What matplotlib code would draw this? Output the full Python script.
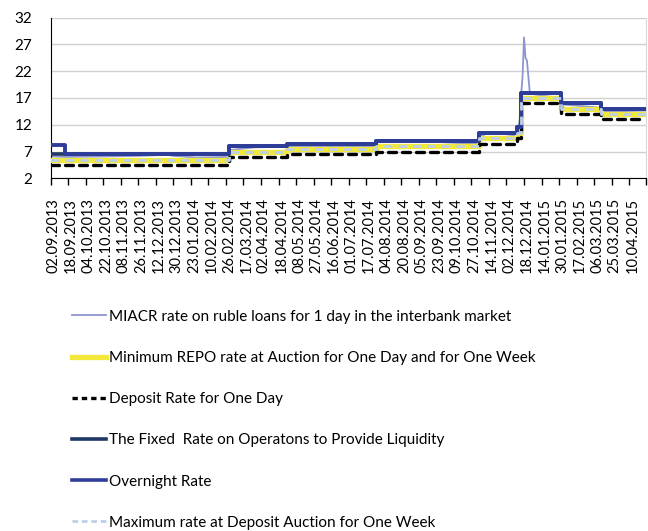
import matplotlib
matplotlib.use("Agg")
import matplotlib.pyplot as plt
import matplotlib.transforms as mtransforms
from matplotlib.lines import Line2D

plt.rcParams["font.family"] = ["Lato", "DejaVu Sans"]

# trading-day index of each labelled date (one label every 12 trading days)
TICK_LABELS = ["02.09.2013", "18.09.2013", "04.10.2013", "22.10.2013", "08.11.2013",
               "26.11.2013", "12.12.2013", "30.12.2013", "23.01.2014", "10.02.2014",
               "26.02.2014", "17.03.2014", "02.04.2014", "18.04.2014", "08.05.2014",
               "27.05.2014", "16.06.2014", "01.07.2014", "17.07.2014", "04.08.2014",
               "20.08.2014", "05.09.2014", "23.09.2014", "09.10.2014", "27.10.2014",
               "14.11.2014", "02.12.2014", "18.12.2014", "14.01.2015", "30.01.2015",
               "17.02.2015", "06.03.2015", "25.03.2015", "10.04.2015"]
LAST_DAY = 407

# step series: index where a rate takes effect, and the rate
overnight_x = [0, 10, 122, 162, 223, 293, 319, 322, 349, 377]
overnight_y = [8.25, 6.5, 8.0, 8.5, 9.0, 10.5, 11.5, 18.0, 16.0, 15.0]

fixed_x = [0, 122, 162, 223, 293, 319, 322, 349, 377]
fixed_y = [6.5, 8.0, 8.5, 9.0, 10.5, 11.5, 18.0, 16.0, 15.0]

repo_x = [0, 122, 162, 223, 293, 319, 322, 349, 377]
repo_y = [5.5, 7.0, 7.5, 8.0, 9.5, 10.5, 17.0, 15.0, 14.0]

deposit_x = [0, 122, 162, 223, 293, 319, 322, 349, 377]
deposit_y = [4.5, 6.0, 6.5, 7.0, 8.5, 9.5, 16.0, 14.0, 13.0]

maxdep_x = [0, 122, 162, 223, 293, 319, 322, 349, 377]
maxdep_y = [5.5, 7.0, 7.5, 8.0, 9.5, 10.5, 17.0, 15.0, 14.0]

# MIACR overnight interbank rate (read points)
miacr_x = [0, 10, 40, 60, 80, 84, 100, 121, 123, 140, 161, 163, 190, 222, 224, 250,
           270, 292, 294, 300, 310, 318, 320, 321, 322, 323, 324, 325, 326, 328, 348,
           350, 376, 378, 407]
miacr_y = [6.1, 6.0, 6.1, 6.2, 6.4, 6.2, 5.9, 6.0, 7.3, 7.8, 7.9, 8.0, 7.9, 8.0, 8.2, 8.0,
           8.3, 8.6, 9.8, 10.6, 10.3, 10.0, 11.5, 13.0, 17.5, 21.0, 28.3, 24.5, 24.0, 17.8,
           17.0, 15.8, 15.2, 14.5, 14.3]


def steps(xs, ys):
    return list(xs) + [LAST_DAY], list(ys) + [ys[-1]]


fig = plt.figure(figsize=(6.48, 5.31), dpi=100)
ax = fig.add_axes([0.078, 0.664, 0.919, 0.303])

ax.plot(miacr_x, miacr_y, color="#8E96D2", lw=1.3, zorder=2)
x, y = steps(repo_x, repo_y)
ax.plot(x, y, drawstyle="steps-post", color="#F2E83A", lw=3.8, zorder=3)
x, y = steps(deposit_x, deposit_y)
ax.plot(x, y, drawstyle="steps-post", color="black", lw=2.4, dashes=(2.4, 1.8),
        dash_capstyle="round", zorder=4)
x, y = steps(fixed_x, fixed_y)
ax.plot(x, y, drawstyle="steps-post", color="#1F3864", lw=2.6, zorder=5)
x, y = steps(overnight_x, overnight_y)
ax.plot(x, y, drawstyle="steps-post", color="#2E3D98", lw=2.8, zorder=6)
x, y = steps(maxdep_x, maxdep_y)
ax.plot(x, y, drawstyle="steps-post", color="#BCD0E8", lw=2.0, dashes=(3.0, 2.2),
        zorder=7)

ax.set_xlim(0, LAST_DAY + 0.5)
ax.set_ylim(2, 32)
ax.set_yticks(range(2, 33, 5))
ax.set_xticks(range(0, 12 * len(TICK_LABELS), 12))
ax.set_xticklabels(TICK_LABELS, rotation=90, fontsize=10.5)
ax.set_xticks([LAST_DAY + 0.5], minor=True)
ax.tick_params(axis="y", length=0, pad=13, labelsize=11)
ax.tick_params(axis="x", which="both", length=5, width=1, direction="out", pad=9,
               color="black")
offset = mtransforms.ScaledTranslation(3 / 100, 0, fig.dpi_scale_trans)
for lab in ax.get_xticklabels():
    lab.set_transform(lab.get_transform() + offset)

ax.grid(axis="y", color="#D0D0D0", lw=1)
ax.set_axisbelow(True)
ax.spines["top"].set_visible(False)
ax.spines["right"].set_color("#D9D9D9")
ax.spines["left"].set_color("black")
ax.spines["bottom"].set_color("black")

handles = [
    Line2D([], [], color="#8E96D2", lw=1.3),
    Line2D([], [], color="#F2E83A", lw=3.8),
    Line2D([], [], color="black", lw=2.4, dashes=(1.6, 1.2)),
    Line2D([], [], color="#1F3864", lw=2.6),
    Line2D([], [], color="#2E3D98", lw=2.6),
    Line2D([], [], color="#BCD0E8", lw=2.0, dashes=(2.0, 1.4)),
]
labels = [
    "MIACR rate on ruble loans for 1 day in the interbank market",
    "Minimum REPO rate at Auction for One Day and for One Week",
    "Deposit Rate for One Day",
    "The Fixed  Rate on Operatons to Provide Liquidity",
    "Overnight Rate",
    "Maximum rate at Deposit Auction for One Week",
]
fig.legend(handles, labels, loc="upper left", bbox_to_anchor=(0.111, 0.4165),
           frameon=False, fontsize=11, handlelength=2.2, handletextpad=0.25,
           labelspacing=1.78, borderpad=0, borderaxespad=0)

fig.savefig("out.png", dpi=100)
